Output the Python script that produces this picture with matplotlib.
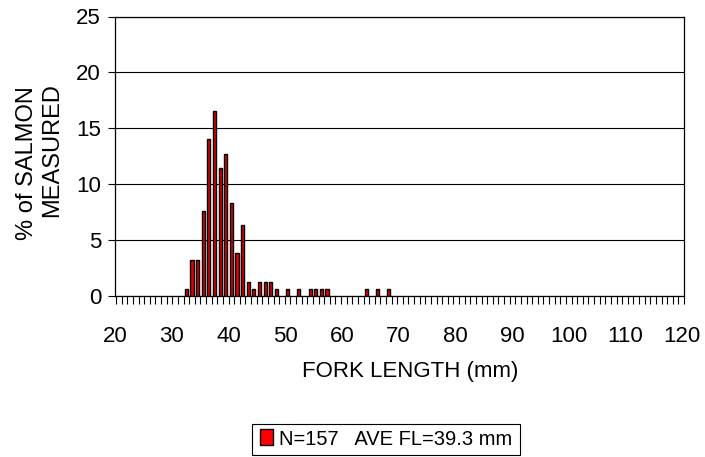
import matplotlib
matplotlib.use("Agg")
import matplotlib.pyplot as plt
from matplotlib.patches import Rectangle
import numpy as np

plt.rcParams['font.family'] = ['Liberation Sans', 'DejaVu Sans']

# Fork length categories (mm) and % of salmon measured
lengths = [32, 33, 34, 35, 36, 37, 38, 39, 40, 41, 42, 43, 44, 45, 46, 47, 48,
           50, 52, 54, 55, 56, 57, 64, 66, 68]
percent = [0.64, 3.18, 3.18, 7.64, 14.01, 16.56, 11.46, 12.74, 8.28, 3.82, 6.37,
           1.27, 0.64, 1.27, 1.27, 1.27, 0.64,
           0.64, 0.64, 0.64, 0.64, 0.64, 0.64, 0.64, 0.64, 0.64]
xtick_labels = [20, 30, 40, 50, 60, 70, 80, 90, 100, 110, 120]
ytick_labels = [0, 5, 10, 15, 20, 25]
legend_label = "N=157   AVE FL=39.3 mm"

W, H = 705, 457
fig = plt.figure(figsize=(W / 100, H / 100), dpi=100)
L, R, T, B = 115, 684, 16.5, 296
ax = fig.add_axes([L / W, 1 - B / H, (R - L) / W, (B - T) / H])

ax.bar(lengths, percent, width=0.55, color='#e00000', edgecolor='black',
       linewidth=1.0, zorder=3)

ax.set_xlim(19.5, 120.5)
ax.set_ylim(0, 25)
ax.set_yticks(ytick_labels)
ax.set_yticklabels([str(v) for v in ytick_labels])
# category labels sit slightly left of category centres, as in the original
ax.set_xticks([19.3 + (c - 20) * 1.009 for c in xtick_labels])
ax.set_xticklabels([str(v) for v in xtick_labels])
ax.set_xticks(np.arange(19.5, 121, 1.0), minor=True)
ax.tick_params(axis='x', which='major', length=0, pad=21.5, labelsize=16)
ax.tick_params(axis='x', which='minor', length=5.5, width=0.8, direction='out')
ax.tick_params(axis='y', which='major', length=5, width=0.8, pad=5, labelsize=16)
ax.yaxis.grid(True, color='black', linewidth=0.8, zorder=0)
ax.set_axisbelow(True)
for s in ax.spines.values():
    s.set_linewidth(0.9)
    s.set_color('black')

fig.text(410 / W, 1 - 371 / H, "FORK LENGTH (mm)", ha='center', va='center', fontsize=16)
fig.text(27 / W, 1 - 163 / H, "% of SALMON", rotation=90, ha='center', va='center', fontsize=17)
fig.text(52 / W, 1 - 150 / H, "MEASURED", rotation=90, ha='center', va='center', fontsize=17)

# legend box
fig.patches.append(Rectangle((252 / W, 1 - 455 / H), (520 - 252) / W, (455 - 424) / H,
                             transform=fig.transFigure, facecolor='white',
                             edgecolor='black', linewidth=0.8))
fig.patches.append(Rectangle((260 / W, 1 - 445 / H), 13 / W, 16 / H,
                             transform=fig.transFigure, facecolor='#ff0000',
                             edgecolor='black', linewidth=1.0))
fig.text(279 / W, 1 - 439.5 / H, legend_label, ha='left', va='center', fontsize=14.5)

fig.savefig("out.png", dpi=100)
